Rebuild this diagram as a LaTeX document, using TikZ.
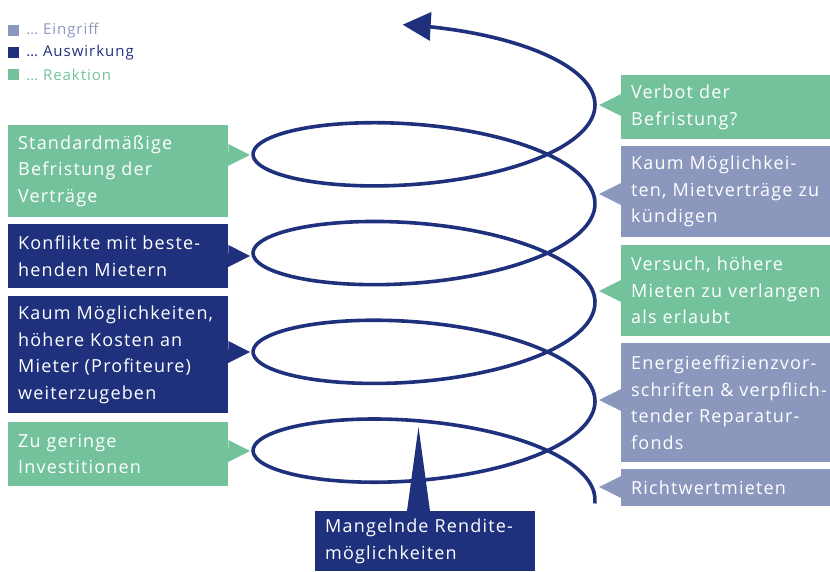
\documentclass[tikz,border=0pt]{standalone}
\usepackage{fontspec}
\setmainfont[LetterSpace=6.5]{Open Sans}
\usetikzlibrary{arrows.meta,positioning}
\definecolor{eingriff}{HTML}{8C97BE}
\definecolor{auswirkung}{HTML}{1F317C}
\definecolor{reaktion}{HTML}{73C29C}
\tikzset{
  box/.style={anchor=north west, inner xsep=10pt, inner ysep=0pt, align=left, text=white,
    text width=200pt, font=\fontsize{18}{26.5}\selectfont},
  spiral/.style={draw=auswirkung, line width=3.6pt},
  legsq/.style={minimum size=11pt, inner sep=0pt},
  legtext/.style={inner sep=0pt, font=\fontsize{15}{18}\selectfont},
}
\begin{document}
\begin{tikzpicture}[x=1pt, y=1pt]
  \useasboundingbox (0,0) rectangle (830,571);

  \node[legsq, fill=eingriff] (qe) at (13.5,540.5) {};
  \node[legsq, fill=auswirkung] (qa) at (13.5,518) {};
  \node[legsq, fill=reaktion] (qr) at (13.5,496.5) {};
  \node[legtext, text=eingriff, right=7pt of qe] (le) {… Eingriff};
  \node[legtext, text=auswirkung, right=7pt of qa] (la) {… Auswirkung};
  \node[legtext, text=reaktion, right=7pt of qr] (lr) {… Reaktion};

  \draw[spiral, -{Triangle[length=28pt, width=28pt]}, domain=-0.05:26.83, samples=320]
    plot[smooth] ({424+171*cos(\x r)}, {71+15.72*\x+54*sin(\x r)});

  \node[box, fill=reaktion, minimum height=92pt] (std) at (8,446) {Standardmäßige\\Befristung der\\Verträge};
  \node[box, fill=auswirkung, minimum height=64pt] (konf) at (8,347) {Konflikte mit beste-\\henden Mietern};
  \node[box, fill=auswirkung, minimum height=117pt] (kosten) at (8,275) {Kaum Möglichkeiten,\\höhere Kosten an\\Mieter (Profiteure)\\weiterzugeben};
  \node[box, fill=reaktion, minimum height=64pt] (invest) at (8,149) {Zu geringe\\Investitionen};

  \node[box, fill=reaktion, minimum height=64pt] (verbot) at (621,496) {Verbot der\\Befristung?};
  \node[box, fill=eingriff, minimum height=91pt] (kuend) at (621,425) {Kaum Möglichkei-\\ten, Mietverträge zu\\kündigen};
  \node[box, fill=reaktion, minimum height=91pt] (versuch) at (621,326) {Versuch, höhere\\Mieten zu verlangen\\als erlaubt};
  \node[box, fill=eingriff, minimum height=119pt] (energie) at (621,228) {Energieeffizienzvor-\\schriften \& verpflich-\\tender Reparatur-\\fonds};
  \node[box, fill=eingriff, minimum height=37pt] (richt) at (621,102) {Richtwertmieten};

  \node[box, fill=auswirkung, minimum height=60pt] (rendite) at (315,60) {Mangelnde Rendite-\\möglichkeiten};

  \coordinate (tstd) at (250,416);
  \coordinate (tkonf) at (250,315);
  \coordinate (tkosten) at (250,219);
  \coordinate (tinvest) at (250,120);
  \coordinate (tverbot) at (599,466);
  \coordinate (tkuend) at (599,377);
  \coordinate (tversuch) at (599,280);
  \coordinate (tenergie) at (599,171);
  \coordinate (tricht) at (599,84);
  \coordinate (trendite) at (418.5,144);

  \fill[reaktion] (std.east |- tstd) ++(0,11) -- (tstd) -- ++(-22,-11) -- cycle;
  \fill[auswirkung] (konf.east |- tkonf) ++(0,11) -- (tkonf) -- ++(-22,-11) -- cycle;
  \fill[auswirkung] (kosten.east |- tkosten) ++(0,11) -- (tkosten) -- ++(-22,-11) -- cycle;
  \fill[reaktion] (invest.east |- tinvest) ++(0,11) -- (tinvest) -- ++(-22,-11) -- cycle;

  \fill[reaktion] (verbot.west |- tverbot) ++(0,11) -- (tverbot) -- ++(22,-11) -- cycle;
  \fill[eingriff] (kuend.west |- tkuend) ++(0,11) -- (tkuend) -- ++(22,-11) -- cycle;
  \fill[reaktion] (versuch.west |- tversuch) ++(0,11) -- (tversuch) -- ++(22,-11) -- cycle;
  \fill[eingriff] (energie.west |- tenergie) ++(0,11) -- (tenergie) -- ++(22,-11) -- cycle;
  \fill[eingriff] (richt.west |- tricht) ++(0,11) -- (tricht) -- ++(22,-11) -- cycle;

  \fill[auswirkung] (trendite |- rendite.north) ++(-11.5,0) -- (trendite) -- ++(11.5,-84) -- cycle;
\end{tikzpicture}
\end{document}
